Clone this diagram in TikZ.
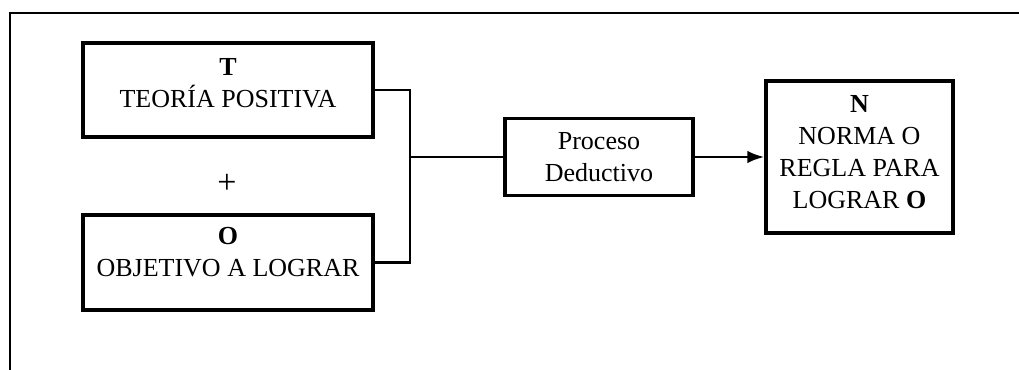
\documentclass[tikz,border=0pt]{standalone}
\usepackage{fontspec}
\setmainfont{Liberation Serif}
\usepackage{tikz}
\usetikzlibrary{arrows.meta,positioning}
\tikzset{
  >={Latex[length=3mm,width=2.2mm]},
  every picture/.style={line join=miter},
  txt/.style={font=\fontsize{13}{16}\selectfont, align=center, text=black},
  box/.style={txt, draw=black, line width=1.6pt, inner sep=0pt},
  wire/.style={black, line width=1.4pt},
}

\begin{document}
\begin{tikzpicture}[x=0.5pt, y=-0.5pt]
\useasboundingbox (0,0) rectangle (1019,370);
% frame, open on the right and at the bottom
\draw[black, line width=1.3pt] (10,370) -- (10,13) -- (1019,13);
% inputs
\node[box, minimum width=145pt, minimum height=47pt, text depth=7.5pt] (teoria) at (228,90) {\textbf{T}\\TEORÍA POSITIVA};
\node[txt, font=\fontsize{17}{20}\selectfont] (plus) at (227,184) {+};
\node[box, minimum width=145pt, minimum height=47.5pt, text depth=11pt] (objetivo) at (228,262.5) {\textbf{O}\\OBJETIVO A LOGRAR};
% process and result
\node[box, minimum width=94pt, minimum height=38.5pt] (proceso) at (599,157) {Proceso\\Deductivo};
\node[box, minimum width=93.5pt, minimum height=76pt, text depth=5pt] (norma) at (859.5,157) {\textbf{N}\\NORMA O\\REGLA PARA\\LOGRAR \textbf{O}};
\coordinate (jn) at (410,157);
\draw[wire] (teoria.east) -| (jn) |- (objetivo.east);
\draw[wire] (jn) -- (proceso.west);
\draw[wire, ->] (proceso.east) -- (norma.west);
\end{tikzpicture}
\end{document}
